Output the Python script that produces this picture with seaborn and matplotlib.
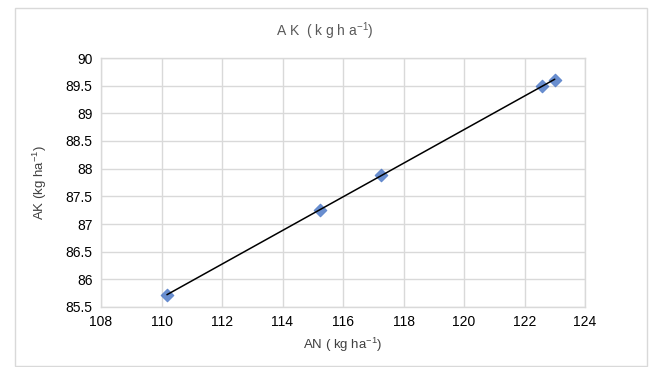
import matplotlib
matplotlib.use("Agg")
import matplotlib.pyplot as plt
import seaborn as sns
import pandas as pd
from matplotlib.patches import Rectangle

an_values = [110.18, 115.24, 117.26, 122.58, 123.0]
ak_values = [85.72, 87.25, 87.89, 89.50, 89.60]
x_ticks = [108, 110, 112, 114, 116, 118, 120, 122, 124]
y_ticks = [85.5, 86, 86.5, 87, 87.5, 88, 88.5, 89, 89.5, 90]

sns.set_theme(style="white")
plt.rcParams['font.family'] = ['Liberation Sans', 'DejaVu Sans']
plt.rcParams['mathtext.fontset'] = 'custom'
plt.rcParams['mathtext.rm'] = 'Liberation Sans'
plt.rcParams['mathtext.it'] = 'Liberation Sans'
plt.rcParams['mathtext.default'] = 'regular'

df = pd.DataFrame({"AN": an_values, "AK": ak_values})

fig = plt.figure(figsize=(6.53, 3.67), dpi=100)
W, H = 653, 367
ax = fig.add_axes([101 / W, 1 - 307 / H, (585 - 101) / W, (307 - 58) / H])

sns.regplot(data=df, x="AN", y="AK", ax=ax, ci=None, truncate=True,
            marker="D",
            scatter_kws=dict(color="#4472C4", s=44, edgecolor="#4472C4", linewidths=0.5, zorder=3),
            line_kws=dict(color="black", linewidth=1.1, zorder=4))

ax.set_xlim(108, 124)
ax.set_ylim(85.5, 90)
ax.set_xticks(x_ticks)
ax.set_yticks(y_ticks)
ax.set_xticklabels([str(v) for v in x_ticks])
ax.set_yticklabels([f"{v:g}" for v in y_ticks])
ax.grid(True, color="#D9D9D9", linewidth=1.0)
ax.set_axisbelow(True)
for s in ax.spines.values():
    s.set_color("#D9D9D9")
    s.set_linewidth(1.0)
ax.tick_params(axis="both", length=0, labelsize=10, colors="#000000", pad=6)

ax.set_xlabel("AN ( kg ha$^{-1}$)", fontsize=9.5, color="#404040", labelpad=5)
ax.set_ylabel("AK (kg ha$^{-1}$)", fontsize=9.5, color="#404040", labelpad=12)

fig.text(325 / W, 1 - 31 / H, "A K  ( k g h a$^{-1}$)", ha="center", va="center",
         fontsize=10, color="#595959")

fig.patches.append(Rectangle((15 / W, 1 / H), (647 - 15) / W, (366 - 8) / H,
                             transform=fig.transFigure, fill=False,
                             edgecolor="#D9D9D9", linewidth=1.0))

fig.savefig("out.png", dpi=100)
